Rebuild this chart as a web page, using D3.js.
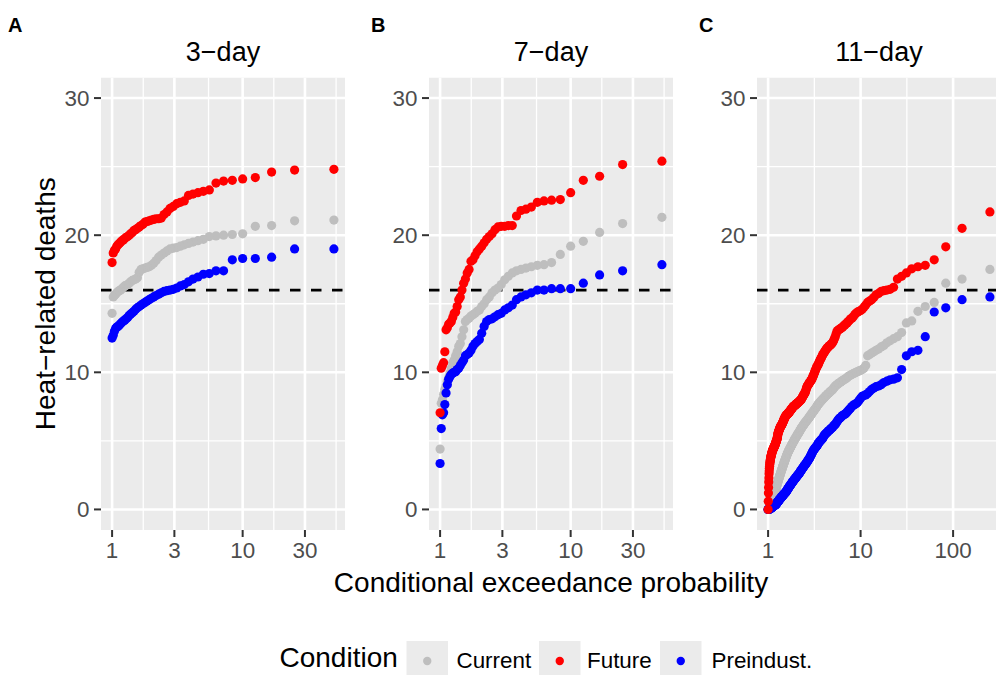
<!DOCTYPE html>
<html>
<head>
<meta charset="utf-8">
<script src="https://cdn.jsdelivr.net/npm/d3@7"></script>
<style>
  body { margin: 0; background: #fff; }
  svg { display: block; font-family: "Liberation Sans", Arial, Helvetica, sans-serif; }
</style>
</head>
<body>
<svg id="chart" width="996" height="675"></svg>
<script>
const conditions = ["Current", "Future", "Preindust."];
const conditionColors = ["#BEBEBE", "#FF0000", "#0000FF"];
const panelTags = ["A", "B", "C"];
const panelTitles = ["3\u2212day", "7\u2212day", "11\u2212day"];
const xTickValues = [[1, 3, 10, 30], [1, 3, 10, 30], [1, 10, 100]];
const yTickValues = [0, 10, 20, 30];
const threshold = 16;

// heat-related deaths per event, largest first (rank 1 = rarest event)
const current3 = [21.1, 21.05, 20.7, 20.65, 20.1, 20.05, 20.0, 19.95, 19.9, 19.7,
  19.6, 19.5, 19.4, 19.3, 19.2, 19.1, 19.05, 19.0, 18.85, 18.7,
  18.55, 18.4, 18.15, 17.95, 17.8, 17.7, 17.65, 17.6, 17.55, 17.5,
  17.3, 16.9, 16.8, 16.75, 16.7, 16.6, 16.5, 16.4, 16.35, 16.3,
  16.2, 16.1, 16.0, 15.95, 15.9, 15.8, 15.7, 15.6, 15.5, 14.3];
const future3 = [24.8, 24.75, 24.6, 24.2, 24.1, 24.0, 23.95, 23.8, 23.3, 23.2,
  23.1, 23.0, 22.9, 22.5, 22.4, 22.3, 22.1, 21.95, 21.7, 21.5,
  21.25, 21.2, 21.2, 21.15, 21.1, 21.05, 21.0, 20.95, 20.8, 20.7,
  20.6, 20.5, 20.4, 20.35, 20.2, 20.1, 20.0, 19.9, 19.85, 19.75,
  19.65, 19.6, 19.5, 19.4, 19.3, 19.2, 19.0, 18.9, 18.7, 18.0];
const preind3 = [19.0, 19.0, 18.4, 18.3, 18.3, 18.2, 17.4, 17.4, 17.2, 17.15,
  16.95, 16.8, 16.6, 16.4, 16.3, 16.15, 16.05, 16.0, 15.95, 15.9,
  15.8, 15.7, 15.6, 15.5, 15.4, 15.3, 15.2, 15.1, 15.0, 14.9,
  14.8, 14.7, 14.6, 14.45, 14.35, 14.25, 14.15, 14.0, 13.9, 13.8,
  13.75, 13.65, 13.55, 13.45, 13.35, 13.3, 13.2, 13.0, 12.7, 12.5];

const current7 = [21.3, 20.85, 20.2, 19.55, 19.2, 18.6, 18.0, 17.85, 17.8, 17.7,
  17.6, 17.5, 17.4, 17.25, 17.0, 16.75, 16.4, 16.15, 16.0, 15.8,
  15.5, 15.3, 15.0, 14.8, 14.55, 14.45, 14.3, 14.2, 14.1, 13.95,
  13.85, 13.7, 13.1, 12.6, 12.1, 11.9, 11.5, 11.2, 10.9, 10.7,
  10.3, 9.95, 9.6, 9.35, 9.0, 8.75, 8.4, 8.0, 7.75, 4.4];
const future7 = [25.4, 25.15, 24.3, 24.0, 23.1, 22.6, 22.55, 22.5, 22.4, 22.05,
  21.9, 21.8, 21.4, 20.7, 20.7, 20.65, 20.65, 20.6, 20.4, 20.1,
  19.9, 19.7, 19.45, 19.2, 19.0, 18.8, 18.5, 18.2, 18.1, 17.5,
  17.25, 16.8, 16.5, 16.0, 15.5, 15.3, 14.8, 14.4, 14.3, 14.0,
  13.7, 13.6, 13.5, 13.25, 13.1, 11.5, 10.7, 10.5, 10.3, 7.05];
const preind7 = [17.85, 17.4, 17.1, 16.5, 16.1, 16.1, 16.1, 16.0, 16.0, 15.8,
  15.65, 15.5, 15.3, 14.9, 14.7, 14.55, 14.3, 14.2, 14.05, 13.9,
  13.85, 13.7, 13.35, 12.85, 12.4, 12.25, 12.1, 11.9, 11.6, 11.4,
  11.3, 11.2, 10.9, 10.7, 10.5, 10.3, 10.2, 10.05, 10.0, 9.95,
  9.85, 9.7, 9.5, 9.1, 8.5, 7.65, 7.05, 6.9, 5.9, 3.35];

const current11 = [17.5, 16.8, 16.5, 15.1, 14.8, 14.45, 13.75, 13.6, 12.9, 12.6,
  12.45, 12.3, 12.15, 11.95, 11.85, 11.7, 11.6, 11.5, 11.4, 11.3,
  11.2, 10.5, 10.3, 10.2, 10.15, 10.1, 10.05, 10.0, 9.95, 9.9,
  9.85, 9.8, 9.75, 9.7, 9.6, 9.55, 9.5, 9.45, 9.4, 9.35,
  9.3, 9.25, 9.2, 9.15, 9.1, 9.05, 9.0, 8.9, 8.85, 8.75,
  8.7, 8.65, 8.6, 8.55, 8.5, 8.45, 8.4, 8.35, 8.3, 8.25,
  8.2, 8.15, 8.1, 8.05, 8.0, 7.95, 7.9, 7.85, 7.8, 7.75,
  7.7, 7.65, 7.6, 7.55, 7.45, 7.4, 7.35, 7.3, 7.25, 7.2,
  7.15, 7.1, 7.05, 7.0, 6.95, 6.9, 6.85, 6.8, 6.75, 6.7,
  6.66, 6.62, 6.58, 6.54, 6.5, 6.46, 6.42, 6.38, 6.34, 6.3,
  6.26, 6.22, 6.18, 6.14, 6.1, 6.06, 6.02, 5.98, 5.94, 5.9,
  5.85, 5.8, 5.75, 5.7, 5.66, 5.62, 5.58, 5.54, 5.5, 5.46,
  5.42, 5.38, 5.34, 5.3, 5.26, 5.22, 5.18, 5.14, 5.1, 5.06,
  5.02, 4.98, 4.94, 4.9, 4.86, 4.82, 4.78, 4.74, 4.7, 4.66,
  4.62, 4.58, 4.54, 4.5, 4.46, 4.42, 4.38, 4.34, 4.3, 4.26,
  4.22, 4.18, 4.14, 4.1, 4.05, 4.0, 3.95, 3.9, 3.85, 3.8,
  3.75, 3.7, 3.65, 3.6, 3.55, 3.5, 3.45, 3.4, 3.35, 3.3,
  3.25, 3.2, 3.15, 3.1, 3.05, 3.0, 2.95, 2.9, 2.85, 2.8,
  2.75, 2.7, 2.65, 2.6, 2.55, 2.5, 2.45, 2.4, 2.35, 2.3,
  2.25, 2.2, 2.15, 2.1, 2.05, 2.0, 1.95, 1.9, 1.85, 1.8,
  1.75, 1.7, 1.65, 1.6, 1.55, 1.5, 1.45, 1.4, 1.35, 1.3,
  1.26, 1.22, 1.18, 1.14, 1.1, 1.06, 1.02, 0.98, 0.94, 0.9,
  0.86, 0.82, 0.78, 0.74, 0.7, 0.66, 0.62, 0.58, 0.54, 0.5,
  0.46, 0.42, 0.38, 0.35, 0.32, 0.29, 0.26, 0.23, 0.2, 0.17,
  0.15, 0.13, 0.11, 0.09, 0.07, 0.05, 0.04, 0.03, 0.01, 0.0];
const future11 = [21.7, 20.5, 19.15, 18.2, 17.8, 17.7, 17.55, 17.25, 17.0, 16.8,
  16.2, 16.05, 16.0, 15.95, 15.9, 15.75, 15.65, 15.45, 15.3, 15.2,
  15.1, 14.9, 14.75, 14.6, 14.5, 14.45, 14.4, 14.3, 14.2, 14.05,
  13.95, 13.9, 13.8, 13.7, 13.6, 13.55, 13.45, 13.4, 13.3, 13.25,
  13.2, 13.15, 13.1, 13.05, 13.0, 12.8, 12.6, 12.45, 12.3, 12.2,
  12.1, 12.05, 12.0, 11.95, 11.9, 11.85, 11.8, 11.75, 11.65, 11.6,
  11.5, 11.45, 11.35, 11.3, 11.2, 11.1, 11.0, 10.95, 10.85, 10.75,
  10.65, 10.55, 10.5, 10.4, 10.35, 10.25, 10.15, 10.05, 9.95, 9.85,
  9.75, 9.7, 9.6, 9.5, 9.45, 9.4, 9.35, 9.3, 9.25, 9.2,
  9.15, 9.1, 9.05, 9.0, 8.95, 8.85, 8.75, 8.65, 8.55, 8.5,
  8.45, 8.4, 8.35, 8.3, 8.25, 8.2, 8.15, 8.1, 8.05, 8.0,
  7.98, 7.95, 7.92, 7.9, 7.88, 7.85, 7.82, 7.8, 7.78, 7.76,
  7.74, 7.72, 7.7, 7.68, 7.66, 7.64, 7.62, 7.6, 7.58, 7.56,
  7.54, 7.52, 7.5, 7.48, 7.45, 7.42, 7.4, 7.37, 7.34, 7.31,
  7.28, 7.25, 7.22, 7.2, 7.17, 7.14, 7.11, 7.08, 7.06, 7.04,
  7.02, 7.0, 6.98, 6.96, 6.94, 6.92, 6.9, 6.88, 6.86, 6.84,
  6.82, 6.8, 6.76, 6.72, 6.68, 6.64, 6.6, 6.56, 6.52, 6.48,
  6.44, 6.4, 6.36, 6.32, 6.28, 6.24, 6.2, 6.18, 6.16, 6.13,
  6.1, 6.07, 6.04, 6.01, 5.98, 5.94, 5.9, 5.86, 5.82, 5.78,
  5.74, 5.7, 5.65, 5.6, 5.55, 5.5, 5.4, 5.3, 5.2, 5.15,
  5.1, 5.05, 5.0, 4.96, 4.92, 4.88, 4.84, 4.8, 4.76, 4.72,
  4.68, 4.65, 4.62, 4.59, 4.56, 4.53, 4.5, 4.47, 4.44, 4.41,
  4.38, 4.35, 4.32, 4.28, 4.24, 4.2, 4.15, 4.1, 4.05, 4.0,
  3.95, 3.9, 3.85, 3.8, 3.72, 3.64, 3.56, 3.48, 3.4, 3.3,
  3.15, 3.0, 2.8, 2.6, 2.3, 2.0, 1.6, 1.2, 0.6, 0.0];
const preind11 = [15.5, 15.3, 14.7, 14.4, 12.6, 11.6, 11.5, 11.2, 10.2, 9.6,
  9.5, 9.45, 9.35, 9.25, 9.1, 9.0, 8.95, 8.85, 8.75, 8.6,
  8.45, 8.35, 8.3, 8.25, 8.1, 7.95, 7.8, 7.7, 7.65, 7.6,
  7.5, 7.4, 7.3, 7.2, 7.1, 7.0, 6.95, 6.9, 6.85, 6.8,
  6.7, 6.65, 6.6, 6.5, 6.4, 6.3, 6.2, 6.15, 6.1, 6.0,
  5.95, 5.9, 5.85, 5.8, 5.75, 5.7, 5.65, 5.6, 5.55, 5.5,
  5.45, 5.4, 5.3, 5.2, 5.15, 5.1, 5.05, 5.0, 4.95, 4.9,
  4.85, 4.8, 4.7, 4.65, 4.6, 4.55, 4.5, 4.45, 4.4, 4.35,
  4.3, 4.25, 4.15, 4.1, 4.0, 3.95, 3.9, 3.8, 3.75, 3.7,
  3.65, 3.6, 3.55, 3.5, 3.45, 3.4, 3.36, 3.32, 3.28, 3.24,
  3.2, 3.16, 3.12, 3.08, 3.04, 3.0, 2.96, 2.92, 2.88, 2.84,
  2.8, 2.76, 2.72, 2.68, 2.64, 2.6, 2.57, 2.54, 2.51, 2.48,
  2.45, 2.42, 2.39, 2.36, 2.33, 2.3, 2.27, 2.24, 2.21, 2.18,
  2.15, 2.12, 2.09, 2.06, 2.03, 2.0, 1.97, 1.94, 1.91, 1.88,
  1.85, 1.82, 1.79, 1.76, 1.73, 1.7, 1.67, 1.64, 1.61, 1.58,
  1.55, 1.52, 1.49, 1.46, 1.43, 1.4, 1.37, 1.34, 1.31, 1.28,
  1.26, 1.24, 1.22, 1.2, 1.18, 1.16, 1.14, 1.12, 1.1, 1.08,
  1.06, 1.04, 1.02, 1.0, 0.98, 0.96, 0.94, 0.92, 0.9, 0.88,
  0.86, 0.84, 0.82, 0.8, 0.78, 0.76, 0.74, 0.72, 0.7, 0.68,
  0.66, 0.64, 0.62, 0.6, 0.58, 0.56, 0.54, 0.52, 0.5, 0.48,
  0.46, 0.44, 0.42, 0.4, 0.38, 0.36, 0.35, 0.34, 0.33, 0.32,
  0.31, 0.3, 0.29, 0.28, 0.27, 0.26, 0.25, 0.24, 0.23, 0.22,
  0.21, 0.2, 0.19, 0.18, 0.17, 0.16, 0.15, 0.14, 0.13, 0.12,
  0.11, 0.1, 0.09, 0.08, 0.07, 0.06, 0.05, 0.05, 0.04, 0.04,
  0.03, 0.03, 0.02, 0.02, 0.01, 0.01, 0.01, 0.0, 0.0, 0.0];

const panelSeries = [
  [current3, future3, preind3],
  [current7, future7, preind7],
  [current11, future11, preind11]
];

// layout
const panelLeft = [101, 429, 757], panelW = 244;
const panelTop = 77.5, panelBottom = 530;
const tagX = [8, 371, 699];
const drawOrder = [0, 2, 1]; // grey, blue, then red on top

const svg = d3.select("#chart");

const y = d3.scaleLinear().domain([-1.5, 31.5]).range([panelBottom, panelTop]);
const yMinor = [5, 15, 25];

panelSeries.forEach((series, i) => {
  const n = series[0].length;
  const left = panelLeft[i], right = left + panelW;
  // empirical return period: n / rank, padded 5% each side on log scale
  const pad = Math.log10(n) * 0.05;
  const x = d3.scaleLog()
    .domain([Math.pow(10, -pad), n * Math.pow(10, pad)])
    .range([left, right]);

  const ticks = xTickValues[i];
  const lt = ticks.map(Math.log10);
  const bd = lt[1] - lt[0];
  const ext = [lt[0] - bd, ...lt, lt[lt.length - 1] + bd];
  const xMinor = d3.pairs(ext)
    .map(([a, b]) => Math.pow(10, (a + b) / 2))
    .filter(v => x(v) > left && x(v) < right);

  const g = svg.append("g");
  g.append("clipPath").attr("id", "clip" + i)
    .append("rect")
    .attr("x", left).attr("y", panelTop)
    .attr("width", panelW).attr("height", panelBottom - panelTop);

  const body = g.append("g").attr("clip-path", `url(#clip${i})`);
  body.append("rect")
    .attr("x", left).attr("y", panelTop)
    .attr("width", panelW).attr("height", panelBottom - panelTop)
    .attr("fill", "#EBEBEB");

  // minor grid
  body.selectAll(".ymin").data(yMinor).join("line")
    .attr("x1", left).attr("x2", right)
    .attr("y1", d => y(d)).attr("y2", d => y(d))
    .attr("stroke", "#fff").attr("stroke-width", 1.3);
  body.selectAll(".xmin").data(xMinor).join("line")
    .attr("x1", d => x(d)).attr("x2", d => x(d))
    .attr("y1", panelTop).attr("y2", panelBottom)
    .attr("stroke", "#fff").attr("stroke-width", 1.3);
  // major grid
  body.selectAll(".ymaj").data(yTickValues).join("line")
    .attr("x1", left).attr("x2", right)
    .attr("y1", d => y(d)).attr("y2", d => y(d))
    .attr("stroke", "#fff").attr("stroke-width", 2.6);
  body.selectAll(".xmaj").data(ticks).join("line")
    .attr("x1", d => x(d)).attr("x2", d => x(d))
    .attr("y1", panelTop).attr("y2", panelBottom)
    .attr("stroke", "#fff").attr("stroke-width", 2.6);

  // threshold
  body.append("line")
    .attr("x1", left).attr("x2", right)
    .attr("y1", y(threshold)).attr("y2", y(threshold))
    .attr("stroke", "#000").attr("stroke-width", 2.7)
    .attr("stroke-dasharray", "10.5,10.5");

  // points
  drawOrder.forEach(k => {
    const pts = series[k].map((v, r) => ({ rp: n / (r + 1), v }));
    body.append("g").selectAll("circle").data(pts).join("circle")
      .attr("cx", d => x(d.rp))
      .attr("cy", d => y(d.v))
      .attr("r", 4.6)
      .attr("fill", conditionColors[k]);
  });

  // axes
  const tickCol = "#333333", labCol = "#4D4D4D";
  g.selectAll(".yt").data(yTickValues).join("line")
    .attr("x1", left - 7).attr("x2", left)
    .attr("y1", d => y(d)).attr("y2", d => y(d))
    .attr("stroke", tickCol).attr("stroke-width", 2);
  g.selectAll(".ytl").data(yTickValues).join("text")
    .attr("x", left - 11.5).attr("y", d => y(d) + 8)
    .attr("text-anchor", "end")
    .attr("font-size", 22.4).attr("fill", labCol)
    .text(d => d);
  g.selectAll(".xt").data(ticks).join("line")
    .attr("x1", d => x(d)).attr("x2", d => x(d))
    .attr("y1", panelBottom).attr("y2", panelBottom + 7)
    .attr("stroke", tickCol).attr("stroke-width", 2);
  g.selectAll(".xtl").data(ticks).join("text")
    .attr("x", d => x(d)).attr("y", panelBottom + 28)
    .attr("text-anchor", "middle")
    .attr("font-size", 22.4).attr("fill", labCol)
    .text(d => d);

  // strip title and tag
  g.append("text")
    .attr("x", (left + right) / 2).attr("y", 60.5)
    .attr("text-anchor", "middle").attr("font-size", 27)
    .text(panelTitles[i]);
  g.append("text")
    .attr("x", tagX[i]).attr("y", 32)
    .attr("font-size", 20).attr("font-weight", "bold")
    .text(panelTags[i]);
});

// axis titles
svg.append("text")
  .attr("x", (panelLeft[0] + panelLeft[2] + panelW) / 2).attr("y", 592)
  .attr("text-anchor", "middle").attr("font-size", 28)
  .text("Conditional exceedance probability");
svg.append("text")
  .attr("transform", `translate(55,${(panelTop + panelBottom) / 2}) rotate(-90)`)
  .attr("text-anchor", "middle").attr("font-size", 28)
  .text("Heat\u2212related deaths");

// legend
const legend = svg.append("g");
legend.append("text").attr("x", 279.5).attr("y", 667)
  .attr("font-size", 28).text("Condition");
const keyX = [406.5, 539, 660];
const labelX = [456.5, 587, 711.5];
conditions.forEach((c, k) => {
  legend.append("rect")
    .attr("x", keyX[k]).attr("y", 641)
    .attr("width", 41.5).attr("height", 42)
    .attr("fill", "#EBEBEB");
  legend.append("circle")
    .attr("cx", keyX[k] + 20.75).attr("cy", 661)
    .attr("r", 4.2).attr("fill", conditionColors[k]);
  legend.append("text")
    .attr("x", labelX[k]).attr("y", 667.5)
    .attr("font-size", 22.4).text(c);
});
</script>
</body>
</html>
